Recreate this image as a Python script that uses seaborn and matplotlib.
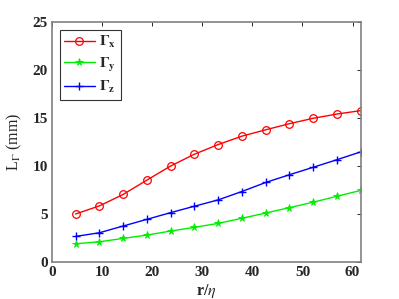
import numpy as np
import pandas as pd
import matplotlib
matplotlib.use('Agg')
import matplotlib.pyplot as plt
import seaborn as sns

# separation r/eta
r_eta = [4.74, 9.48, 14.2, 18.96, 23.7, 28.4, 33.2, 37.9, 42.7, 47.4, 52.1, 56.9, 61.6]
# integral length scales (mm)
L_x = [5.0, 5.84, 7.03, 8.53, 10.0, 11.22, 12.24, 13.11, 13.78, 14.41, 14.97, 15.42, 15.77]
L_y = [1.89, 2.10, 2.45, 2.80, 3.22, 3.60, 4.02, 4.55, 5.10, 5.66, 6.22, 6.85, 7.45]
L_z = [2.66, 3.04, 3.74, 4.44, 5.14, 5.80, 6.47, 7.34, 8.29, 9.09, 9.86, 10.66, 11.47]
labels = [r'$\mathbf{\Gamma_x}$', r'$\mathbf{\Gamma_y}$', r'$\mathbf{\Gamma_z}$']

sns.set_style('white')
plt.rcParams['font.family'] = ['Liberation Serif', 'DejaVu Serif']
plt.rcParams['mathtext.fontset'] = 'stix'

fig = plt.figure(figsize=(3.99, 2.99), dpi=100)
ax = fig.add_axes([0.130, 0.124, 0.775, 0.802])

sns.lineplot(x=r_eta, y=L_x, ax=ax, color='#ff0000', lw=1, ls='-', marker='o', ms=5.5,
             markerfacecolor='none', markeredgecolor='#ff0000', markeredgewidth=0.9,
             label=labels[0])
sns.lineplot(x=r_eta, y=L_y, ax=ax, color='#00ee00', lw=1, ls='-', marker='*', ms=5.5,
             markeredgecolor='#00ee00', markeredgewidth=0.6, label=labels[1])
sns.lineplot(x=r_eta, y=L_z, ax=ax, color='#0000ff', lw=1, ls='-', marker='+', ms=6,
             markeredgecolor='#0000ff', markeredgewidth=1, label=labels[2])

ax.set_xlim(0, 61.7)
ax.set_ylim(0, 25)
ax.set_xticks([0, 10, 20, 30, 40, 50, 60])
ax.set_yticks([0, 5, 10, 15, 20, 25])
for t in ax.get_xticklabels() + ax.get_yticklabels():
    t.set_fontweight('bold')
    t.set_fontsize(11)
ax.tick_params(direction='in', length=3, width=0.7, colors='#262626', top=True, right=True, pad=3)
for s in ax.spines.values():
    s.set_color('#808080')
    s.set_linewidth(1.2)

ax.set_xlabel(r'r/$\eta$', fontsize=11.5, fontweight='bold', labelpad=2)
ax.set_ylabel(r'L$_\Gamma$ (mm)', fontsize=11.5, labelpad=6)

leg = ax.legend(loc='upper left', fontsize=11, frameon=True, fancybox=False,
                edgecolor='black', handlelength=2.0, borderaxespad=0.5,
                labelspacing=0.35, handletextpad=0.3, borderpad=0.3)
leg.get_frame().set_linewidth(0.8)

fig.savefig('out.png', dpi=100)
